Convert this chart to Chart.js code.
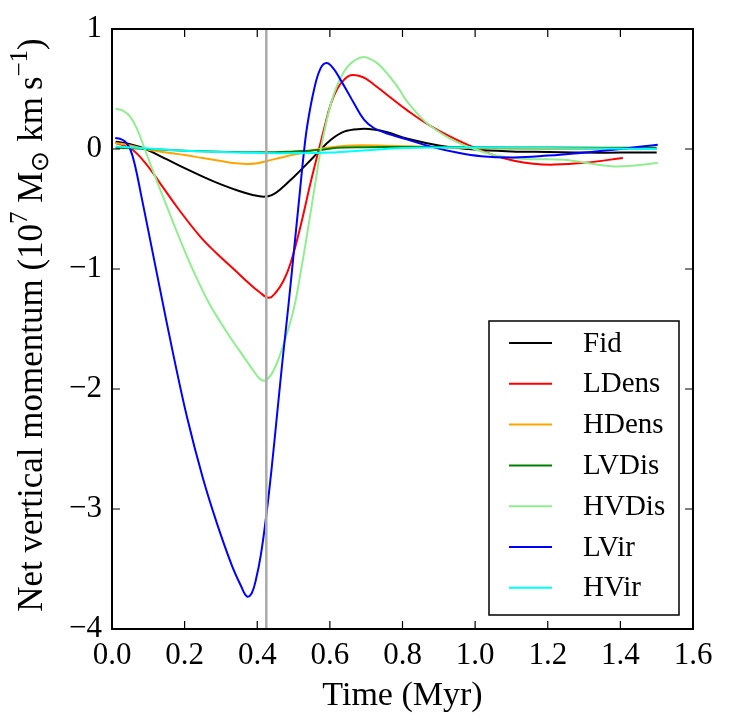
<!DOCTYPE html>
<html>
<head>
<meta charset="utf-8">
<script src="https://cdn.jsdelivr.net/npm/chart.js@4.4.1/dist/chart.umd.min.js"></script>
<style>
    html, body { margin: 0; padding: 0; background: #fff; }
    #wrap { width: 730px; height: 728px; position: relative; }
</style>
</head>
<body>
<div id="wrap"><canvas id="myChart"></canvas></div>
<script>
// time (Myr) and net vertical momentum (1e7 Msun km/s) per run
const fidT = [0.01, 0.05, 0.092, 0.15, 0.2, 0.25, 0.3, 0.35, 0.39, 0.418, 0.44, 0.464, 0.5, 0.538, 0.57, 0.602, 0.639, 0.685, 0.72, 0.758, 0.814, 0.9, 1.0, 1.1, 1.2, 1.3, 1.4, 1.5];
const fidV = [0.06, 0.04, 0.0, -0.085, -0.16, -0.23, -0.295, -0.35, -0.385, -0.397, -0.385, -0.335, -0.235, -0.12, -0.02, 0.075, 0.145, 0.167, 0.163, 0.14, 0.085, 0.03, -0.005, -0.02, -0.025, -0.03, -0.03, -0.03];

const ldensT = [0.01, 0.05, 0.092, 0.138, 0.183, 0.243, 0.29, 0.335, 0.381, 0.405, 0.432, 0.45, 0.472, 0.492, 0.519, 0.547, 0.57, 0.585, 0.602, 0.62, 0.64, 0.657, 0.69, 0.72, 0.758, 0.814, 0.878, 0.95, 1.0, 1.05, 1.107, 1.16, 1.218, 1.3, 1.407];
const ldensV = [0.05, 0.008, -0.117, -0.31, -0.5, -0.73, -0.875, -1.0, -1.13, -1.19, -1.24, -1.2, -1.1, -0.95, -0.645, -0.28, 0.0, 0.18, 0.37, 0.5, 0.58, 0.615, 0.6, 0.54, 0.45, 0.32, 0.19, 0.075, 0.01, -0.05, -0.098, -0.123, -0.13, -0.115, -0.075];

const hdensT = [0.01, 0.05, 0.09, 0.15, 0.2, 0.25, 0.3, 0.34, 0.372, 0.4, 0.427, 0.47, 0.519, 0.57, 0.62, 0.665, 0.75, 0.85, 0.95, 1.1, 1.3, 1.5];
const hdensV = [0.05, 0.03, 0.0, -0.03, -0.05, -0.075, -0.1, -0.118, -0.125, -0.118, -0.10, -0.068, -0.035, 0.0, 0.02, 0.03, 0.028, 0.02, 0.01, 0.003, 0.0, 0.0];

const lvdisT = [0.01, 0.1, 0.2, 0.3, 0.42, 0.5, 0.57, 0.62, 0.7, 0.8, 1.0, 1.2, 1.5];
const lvdisV = [0.01, 0.0, -0.015, -0.022, -0.028, -0.02, -0.008, 0.01, 0.015, 0.017, 0.015, 0.012, 0.01];

const hvdisT = [0.01, 0.03, 0.05, 0.07, 0.09, 0.12, 0.15, 0.18, 0.21, 0.24, 0.27, 0.3, 0.33, 0.36, 0.39, 0.409, 0.425, 0.446, 0.47, 0.5, 0.52, 0.54, 0.56, 0.575, 0.59, 0.605, 0.62, 0.64, 0.66, 0.689, 0.715, 0.74, 0.786, 0.814, 0.878, 0.988, 1.107, 1.245, 1.383, 1.503];
const hvdisV = [0.336, 0.32, 0.27, 0.16, 0.0, -0.24, -0.47, -0.7, -0.92, -1.12, -1.3, -1.45, -1.59, -1.72, -1.85, -1.92, -1.925, -1.84, -1.65, -1.34, -1.02, -0.66, -0.28, 0.0, 0.22, 0.4, 0.53, 0.65, 0.72, 0.765, 0.745, 0.69, 0.52, 0.39, 0.19, 0.01, -0.075, -0.09, -0.145, -0.117];

const lvirT = [0.009, 0.022, 0.036, 0.05, 0.064, 0.08, 0.1, 0.133, 0.17, 0.207, 0.25, 0.289, 0.33, 0.355, 0.372, 0.385, 0.397, 0.41, 0.425, 0.44, 0.455, 0.47, 0.486, 0.5, 0.514, 0.528, 0.538, 0.556, 0.574, 0.591, 0.61, 0.629, 0.648, 0.666, 0.694, 0.721, 0.767, 0.814, 0.878, 0.95, 1.016, 1.107, 1.2, 1.29, 1.4, 1.503];
const lvirV = [0.092, 0.085, 0.063, 0.0, -0.145, -0.38, -0.68, -1.18, -1.73, -2.24, -2.74, -3.12, -3.47, -3.64, -3.73, -3.7, -3.58, -3.38, -3.05, -2.65, -2.2, -1.75, -1.3, -0.88, -0.46, -0.04, 0.2, 0.49, 0.67, 0.717, 0.67, 0.578, 0.48, 0.383, 0.244, 0.175, 0.12, 0.078, 0.02, -0.03, -0.06, -0.07, -0.055, -0.033, 0.0, 0.036];

const hvirT = [0.01, 0.1, 0.2, 0.3, 0.4, 0.5, 0.6, 0.7, 0.8, 0.9, 1.0, 1.2, 1.5];
const hvirV = [0.02, 0.005, -0.015, -0.025, -0.032, -0.035, -0.03, -0.01, 0.008, 0.013, 0.013, 0.008, 0.0];

const runLabels = ['Fid', 'LDens', 'HDens', 'LVDis', 'HVDis', 'LVir', 'HVir'];
const runColors = ['#000000', '#ff0000', '#ffa500', '#008000', '#90ee90', '#0000ff', '#00ffff'];
const runTimes = [fidT, ldensT, hdensT, lvdisT, hvdisT, lvirT, hvirT];
const runValues = [fidV, ldensV, hdensV, lvdisV, hvdisV, lvirV, hvirV];

const xTicks = [0, 0.2, 0.4, 0.6, 0.8, 1.0, 1.2, 1.4, 1.6];
const yTicks = [-4, -3, -2, -1, 0, 1];
const markTime = 0.425;

const serif = '"Liberation Serif", "Times New Roman", serif';

function toPoints(ts, vs) {
    return ts.map((t, i) => ({ x: t, y: vs[i] }));
}

const datasets = runLabels.map((name, i) => ({
    label: name,
    data: toPoints(runTimes[i], runValues[i]),
    borderColor: runColors[i],
    backgroundColor: runColors[i],
    borderWidth: 2,
    pointRadius: 0,
    fill: false,
    tension: 0.4,
    order: runLabels.length - i
}));

// frame, inward ticks, marker line, y title and legend
const decorations = {
    id: 'decorations',
    afterDatasetsDraw(chart) {
        const { ctx, chartArea: ca, scales: { x, y } } = chart;
        ctx.save();

        // vertical marker
        const mx = x.getPixelForValue(markTime);
        ctx.strokeStyle = '#aaaaaa';
        ctx.lineWidth = 2.5;
        ctx.beginPath();
        ctx.moveTo(mx, ca.top);
        ctx.lineTo(mx, ca.bottom);
        ctx.stroke();

        // ticks on all four sides, pointing in
        ctx.strokeStyle = '#000';
        ctx.lineWidth = 1.2;
        const tl = 8;
        ctx.beginPath();
        xTicks.forEach(v => {
            const px = x.getPixelForValue(v);
            ctx.moveTo(px, ca.bottom); ctx.lineTo(px, ca.bottom - tl);
            ctx.moveTo(px, ca.top); ctx.lineTo(px, ca.top + tl);
        });
        yTicks.forEach(v => {
            const py = y.getPixelForValue(v);
            ctx.moveTo(ca.left, py); ctx.lineTo(ca.left + tl, py);
            ctx.moveTo(ca.right, py); ctx.lineTo(ca.right - tl, py);
        });
        ctx.stroke();

        // frame
        ctx.lineWidth = 2;
        ctx.strokeRect(ca.left, ca.top, ca.right - ca.left, ca.bottom - ca.top);

        // y axis title with super/subscripts
        const fs = 35;
        const pieces = [
            { t: 'Net vertical momentum (10', s: 0 },
            { t: '7', s: 1 },
            { t: ' M', s: 0 },
            { t: '\u2299', s: -1 },
            { t: ' km\u2009s', s: 0 },
            { t: '\u22121', s: 1 },
            { t: ')', s: 0 }
        ];
        const fontFor = s => (s === 0 ? fs : Math.round(fs * 0.7)) + 'px ' + serif;
        let total = 0;
        pieces.forEach(p => { ctx.font = fontFor(p.s); p.w = ctx.measureText(p.t).width; total += p.w; });
        ctx.translate(30, (ca.top + ca.bottom) / 2 - 4);
        ctx.rotate(-Math.PI / 2);
        ctx.fillStyle = '#000';
        ctx.textBaseline = 'alphabetic';
        ctx.textAlign = 'left';
        let cx = -total / 2;
        const base = 12;
        pieces.forEach(p => {
            ctx.font = fontFor(p.s);
            const dy = p.s === 1 ? -fs * 0.42 : (p.s === -1 ? fs * 0.18 : 0);
            ctx.fillText(p.t, cx, base + dy);
            cx += p.w;
        });
        ctx.setTransform(1, 0, 0, 1, 0, 0);

        // legend box in lower right
        const bw = 190, bh = 294;
        const bx = ca.right - 14 - bw, by = ca.bottom - 14 - bh;
        ctx.fillStyle = '#fff';
        ctx.fillRect(bx, by, bw, bh);
        ctx.strokeStyle = '#000';
        ctx.lineWidth = 1.5;
        ctx.strokeRect(bx, by, bw, bh);
        ctx.font = '29px ' + serif;
        ctx.textBaseline = 'middle';
        chart.data.datasets.forEach((ds, i) => {
            const ry = by + 22 + i * 40.8;
            ctx.strokeStyle = ds.borderColor;
            ctx.lineWidth = 2;
            ctx.beginPath();
            ctx.moveTo(bx + 20, ry);
            ctx.lineTo(bx + 63, ry);
            ctx.stroke();
            ctx.fillStyle = '#000';
            ctx.fillText(ds.label, bx + 94, ry + 1);
        });
        ctx.restore();
    }
};

const ctx = document.getElementById('myChart').getContext('2d');
const myChart = new Chart(ctx, {
    type: 'line',
    data: { datasets: datasets },
    options: {
        responsive: true,
        maintainAspectRatio: false,
        animation: false,
        layout: { padding: { top: 29, right: 37, left: 0, bottom: 0 } },
        plugins: { legend: { display: false }, tooltip: { enabled: false } },
        scales: {
            x: {
                type: 'linear',
                min: 0,
                max: 1.6,
                afterFit: s => { s.height = 99; },
                afterBuildTicks: s => { s.ticks = xTicks.map(v => ({ value: v })); },
                grid: { display: false, drawTicks: false },
                border: { display: false },
                ticks: {
                    padding: 8,
                    color: '#000',
                    font: { family: serif, size: 31 },
                    maxRotation: 0,
                    autoSkip: false,
                    callback: v => v.toFixed(1)
                },
                title: {
                    display: true,
                    text: 'Time (Myr)',
                    color: '#000',
                    font: { family: serif, size: 34 },
                    padding: { top: 0, bottom: 12 }
                }
            },
            y: {
                type: 'linear',
                min: -4,
                max: 1,
                afterFit: s => { s.width = 112; },
                afterBuildTicks: s => { s.ticks = yTicks.map(v => ({ value: v })); },
                grid: { display: false, drawTicks: false },
                border: { display: false },
                ticks: {
                    padding: 10,
                    color: '#000',
                    font: { family: serif, size: 31 },
                    autoSkip: false,
                    callback: v => (v < 0 ? '\u2212' + Math.abs(v) : String(v))
                }
            }
        }
    },
    plugins: [decorations]
});
</script>
</body>
</html>
